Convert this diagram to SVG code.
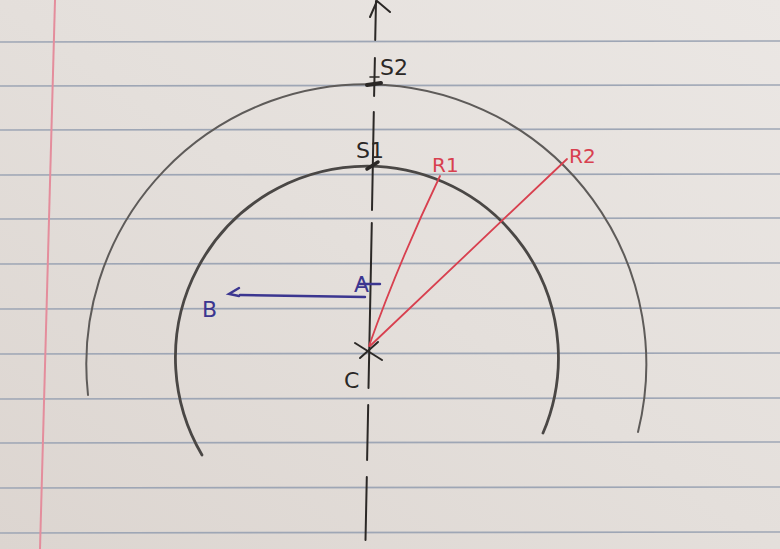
<svg xmlns="http://www.w3.org/2000/svg" width="780" height="549" viewBox="0 0 780 549">
  <defs>
    <linearGradient id="paper" x1="1" y1="0" x2="0" y2="1">
      <stop offset="0" stop-color="#ebe7e4"/>
      <stop offset="0.5" stop-color="#e4dfdb"/>
      <stop offset="1" stop-color="#dcd5d0"/>
    </linearGradient>
    <style>
      .rule { stroke: #9ea6b5; stroke-width: 1.6; }
      .pencil { fill: none; stroke-linecap: round; }
      .ink { fill: none; stroke: #2b2826; stroke-width: 2; stroke-linecap: round; }
      .red { fill: none; stroke: #d8404f; stroke-width: 1.8; stroke-linecap: round; }
      .blue { fill: none; stroke: #3b3690; stroke-width: 2.4; stroke-linecap: round; }
      .lbl { font-family: "DejaVu Sans", "Liberation Sans", sans-serif; font-size: 22px; }
      .k { fill: #2b2826; }
      .r { fill: #d8404f; font-size: 20px; }
      .b { fill: #3b3690; }
    </style>
  </defs>

  <!-- paper -->
  <rect x="0" y="0" width="780" height="549" fill="url(#paper)"/>
  <g id="paper-lines">
    <line class="rule" x1="0" y1="42" x2="780" y2="41"/>
    <line class="rule" x1="0" y1="86" x2="780" y2="85"/>
    <line class="rule" x1="0" y1="130" x2="780" y2="129"/>
    <line class="rule" x1="0" y1="175" x2="780" y2="174"/>
    <line class="rule" x1="0" y1="219" x2="780" y2="218"/>
    <line class="rule" x1="0" y1="264" x2="780" y2="263"/>
    <line class="rule" x1="0" y1="309" x2="780" y2="308"/>
    <line class="rule" x1="0" y1="354" x2="780" y2="353"/>
    <line class="rule" x1="0" y1="399" x2="780" y2="398"/>
    <line class="rule" x1="0" y1="443" x2="780" y2="442"/>
    <line class="rule" x1="0" y1="488" x2="780" y2="487"/>
    <line class="rule" x1="0" y1="533" x2="780" y2="532"/>
    <line x1="55" y1="0" x2="40" y2="549" stroke="#e48d9c" stroke-width="2"/>
  </g>

  <!-- arcs -->
  <g id="outer-arc">
    <path class="pencil" d="M88,395 A280,280 0 1 1 638,432" stroke="#5e5b59" stroke-width="2"/>
  </g>
  <g id="inner-arc">
    <path class="pencil" d="M202,455 A191.5,191.5 0 1 1 543,433" stroke="#4a4745" stroke-width="2.8"/>
  </g>

  <!-- axis -->
  <g id="axis">
    <line class="ink" x1="376" y1="1" x2="375.2" y2="40"/>
    <polyline class="ink" points="370,17 377,1 390,12"/>
    <line class="ink" x1="374.9" y1="58" x2="374.1" y2="96"/>
    <line class="ink" x1="373.8" y1="112" x2="372" y2="210"/>
    <line class="ink" x1="371.8" y1="223" x2="368.5" y2="388"/>
    <line class="ink" x1="368.2" y1="405" x2="367.1" y2="460"/>
    <line class="ink" x1="366.8" y1="477" x2="365.5" y2="540"/>
  </g>

  <!-- nodes -->
  <g id="S2">
    <line x1="367" y1="85" x2="381" y2="83" stroke="#2b2826" stroke-width="4" stroke-linecap="round"/>
    <line x1="370" y1="77" x2="379" y2="77" stroke="#2b2826" stroke-width="1.6" stroke-linecap="round"/>
    <text class="lbl k" x="380" y="75">S2</text>
  </g>
  <g id="S1">
    <line x1="367" y1="169" x2="378" y2="162" stroke="#2b2826" stroke-width="3.5" stroke-linecap="round"/>
    <text class="lbl k" x="356" y="158">S1</text>
  </g>
  <g id="C">
    <line class="ink" x1="355" y1="343" x2="382" y2="360"/>
    <line class="ink" x1="360" y1="358" x2="378" y2="342"/>
    <text class="lbl k" x="344" y="388">C</text>
  </g>
  <g id="A">
    <text class="lbl b" x="354" y="292">A</text>
    <line class="blue" x1="360" y1="284" x2="380" y2="284" stroke-width="1.6"/>
  </g>
  <g id="B">
    <text class="lbl b" x="202" y="317">B</text>
  </g>
  <g id="R1">
    <text class="lbl r" x="432" y="172">R1</text>
  </g>
  <g id="R2">
    <text class="lbl r" x="569" y="163">R2</text>
  </g>

  <!-- connectors -->
  <g id="connectors">
    <path class="blue" d="M365,297 L240,295"/>
    <polyline class="blue" points="239,288 229,294 239,296"/>
    <path class="red" d="M369,346 Q398,264 440,176"/>
    <path class="red" d="M370,346 L567,159"/>
  </g>
</svg>
